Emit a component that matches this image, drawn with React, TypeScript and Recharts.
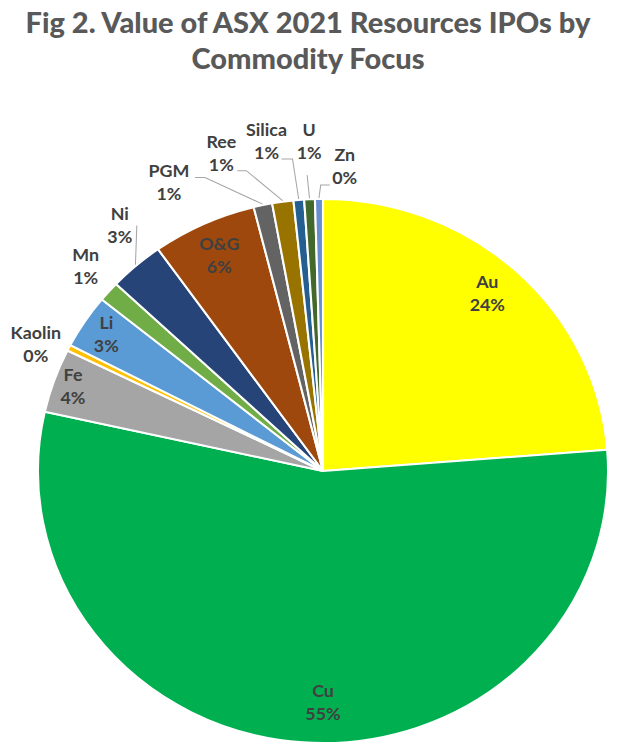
import React from "react";
import { PieChart, Pie, Cell } from "recharts";

const commodities = ["Au", "Cu", "Fe", "Kaolin", "Li", "Mn", "Ni", "O&G", "PGM", "Ree", "Silica", "U", "Zn"];
const shares = [23.7, 54.6, 3.8, 0.35, 3.2, 1.2, 3.1, 5.9, 1.05, 1.2, 0.6, 0.6, 0.45];
const sliceColors = [
  "#FFFF00", "#00B050", "#A5A5A5", "#FFC000", "#5B9BD5", "#70AD47", "#264478",
  "#9E480E", "#636363", "#997300", "#255E91", "#43682B", "#698ED0",
];

const data = commodities.map((name, i) => ({ name, value: shares[i] }));

// label layout: f = radius factor, angle = clockwise from top (optional),
// line = leader line anchor offset from label centre + elbow length
const labelPlacement: Record<string, any> = {
  Au: { f: 0.87, angle: 41.5 },
  Cu: { f: 0.85, angle: 180 },
  Fe: { f: 0.93 },
  Li: { f: 0.91 },
  "O&G": { f: 0.87 },
  Kaolin: { f: 1.11, angle: 294.8 },
  Mn: { f: 1.12, angle: 312 },
  Ni: { f: 1.15, angle: 321.7, line: [17, 0, 0] },
  PGM: { f: 1.19, angle: 333, line: [26, -5, 10] },
  Ree: { f: 1.22, angle: 343, line: [16, 17, 9] },
  Silica: { f: 1.226, angle: 350.7, line: [15, 17, 11] },
  U: { f: 1.21, angle: 357.7, line: [-2, 33, 0] },
  Zn: { f: 1.12, angle: 3.9, line: [-15, 18, -9] },
};

const RAD = Math.PI / 180;
const SX = 1.048;

const renderLabel = (props: any) => {
  const { cx, cy, midAngle, outerRadius, percent, name } = props;
  const place = labelPlacement[name] || { f: 0.9 };
  const mid = 90 - midAngle;
  const a = place.angle !== undefined ? place.angle : mid;
  const x = cx + outerRadius * place.f * Math.sin(a * RAD);
  const y = cy - outerRadius * place.f * Math.cos(a * RAD);
  let leader = null;
  if (place.line) {
    const [dx, dy, el] = place.line;
    const ax = x + dx / SX;
    const ay = y + dy;
    const ex = cx + (outerRadius + 1) * Math.sin(mid * RAD);
    const ey = cy - (outerRadius + 1) * Math.cos(mid * RAD);
    leader = (
      <polyline
        points={`${ax},${ay} ${ax + el / SX},${ay} ${ex},${ey}`}
        fill="none"
        stroke="#A6A6A6"
        strokeWidth={1}
      />
    );
  }
  return (
    <g>
      {leader}
      <text
        x={x}
        y={y}
        textAnchor="middle"
        fill="#404040"
        fontSize={17}
        fontWeight="bold"
        fontFamily="Lato, 'Open Sans', sans-serif"
      >
        <tspan x={x} y={y - 12} dominantBaseline="central">{name}</tspan>
        <tspan x={x} y={y + 11} dominantBaseline="central">
          {`${Math.round(percent * 100)}%`}
        </tspan>
      </text>
    </g>
  );
};

export default function App() {
  return (
    <div style={{ position: "absolute", left: 0, top: 0, width: 632, height: 753, background: "#fff" }}>
      <div
        style={{
          position: "absolute",
          left: 0,
          top: 4,
          width: 616,
          textAlign: "center",
          fontFamily: "Lato, 'Open Sans', sans-serif",
          fontWeight: 900,
          fontSize: 29,
          lineHeight: "36px",
          color: "#595959",
        }}
      >
        Fig 2. Value of ASX 2021 Resources IPOs by
        <br />
        Commodity Focus
      </div>
      <div
        style={{
          position: "absolute",
          left: 0,
          top: 0,
          width: 632,
          height: 753,
          transform: `scaleX(${SX})`,
          transformOrigin: "323px 0",
        }}
      >
        <PieChart width={632} height={753} margin={{ top: 0, right: 0, bottom: 0, left: 0 }}>
          <Pie
            data={data}
            dataKey="value"
            nameKey="name"
            cx={323}
            cy={471}
            outerRadius={272}
            startAngle={90}
            endAngle={-270}
            stroke="#FFFFFF"
            strokeWidth={2}
            label={renderLabel}
            labelLine={false}
            isAnimationActive={false}
          >
            {data.map((d, i) => (
              <Cell key={d.name} fill={sliceColors[i]} />
            ))}
          </Pie>
        </PieChart>
      </div>
    </div>
  );
}
